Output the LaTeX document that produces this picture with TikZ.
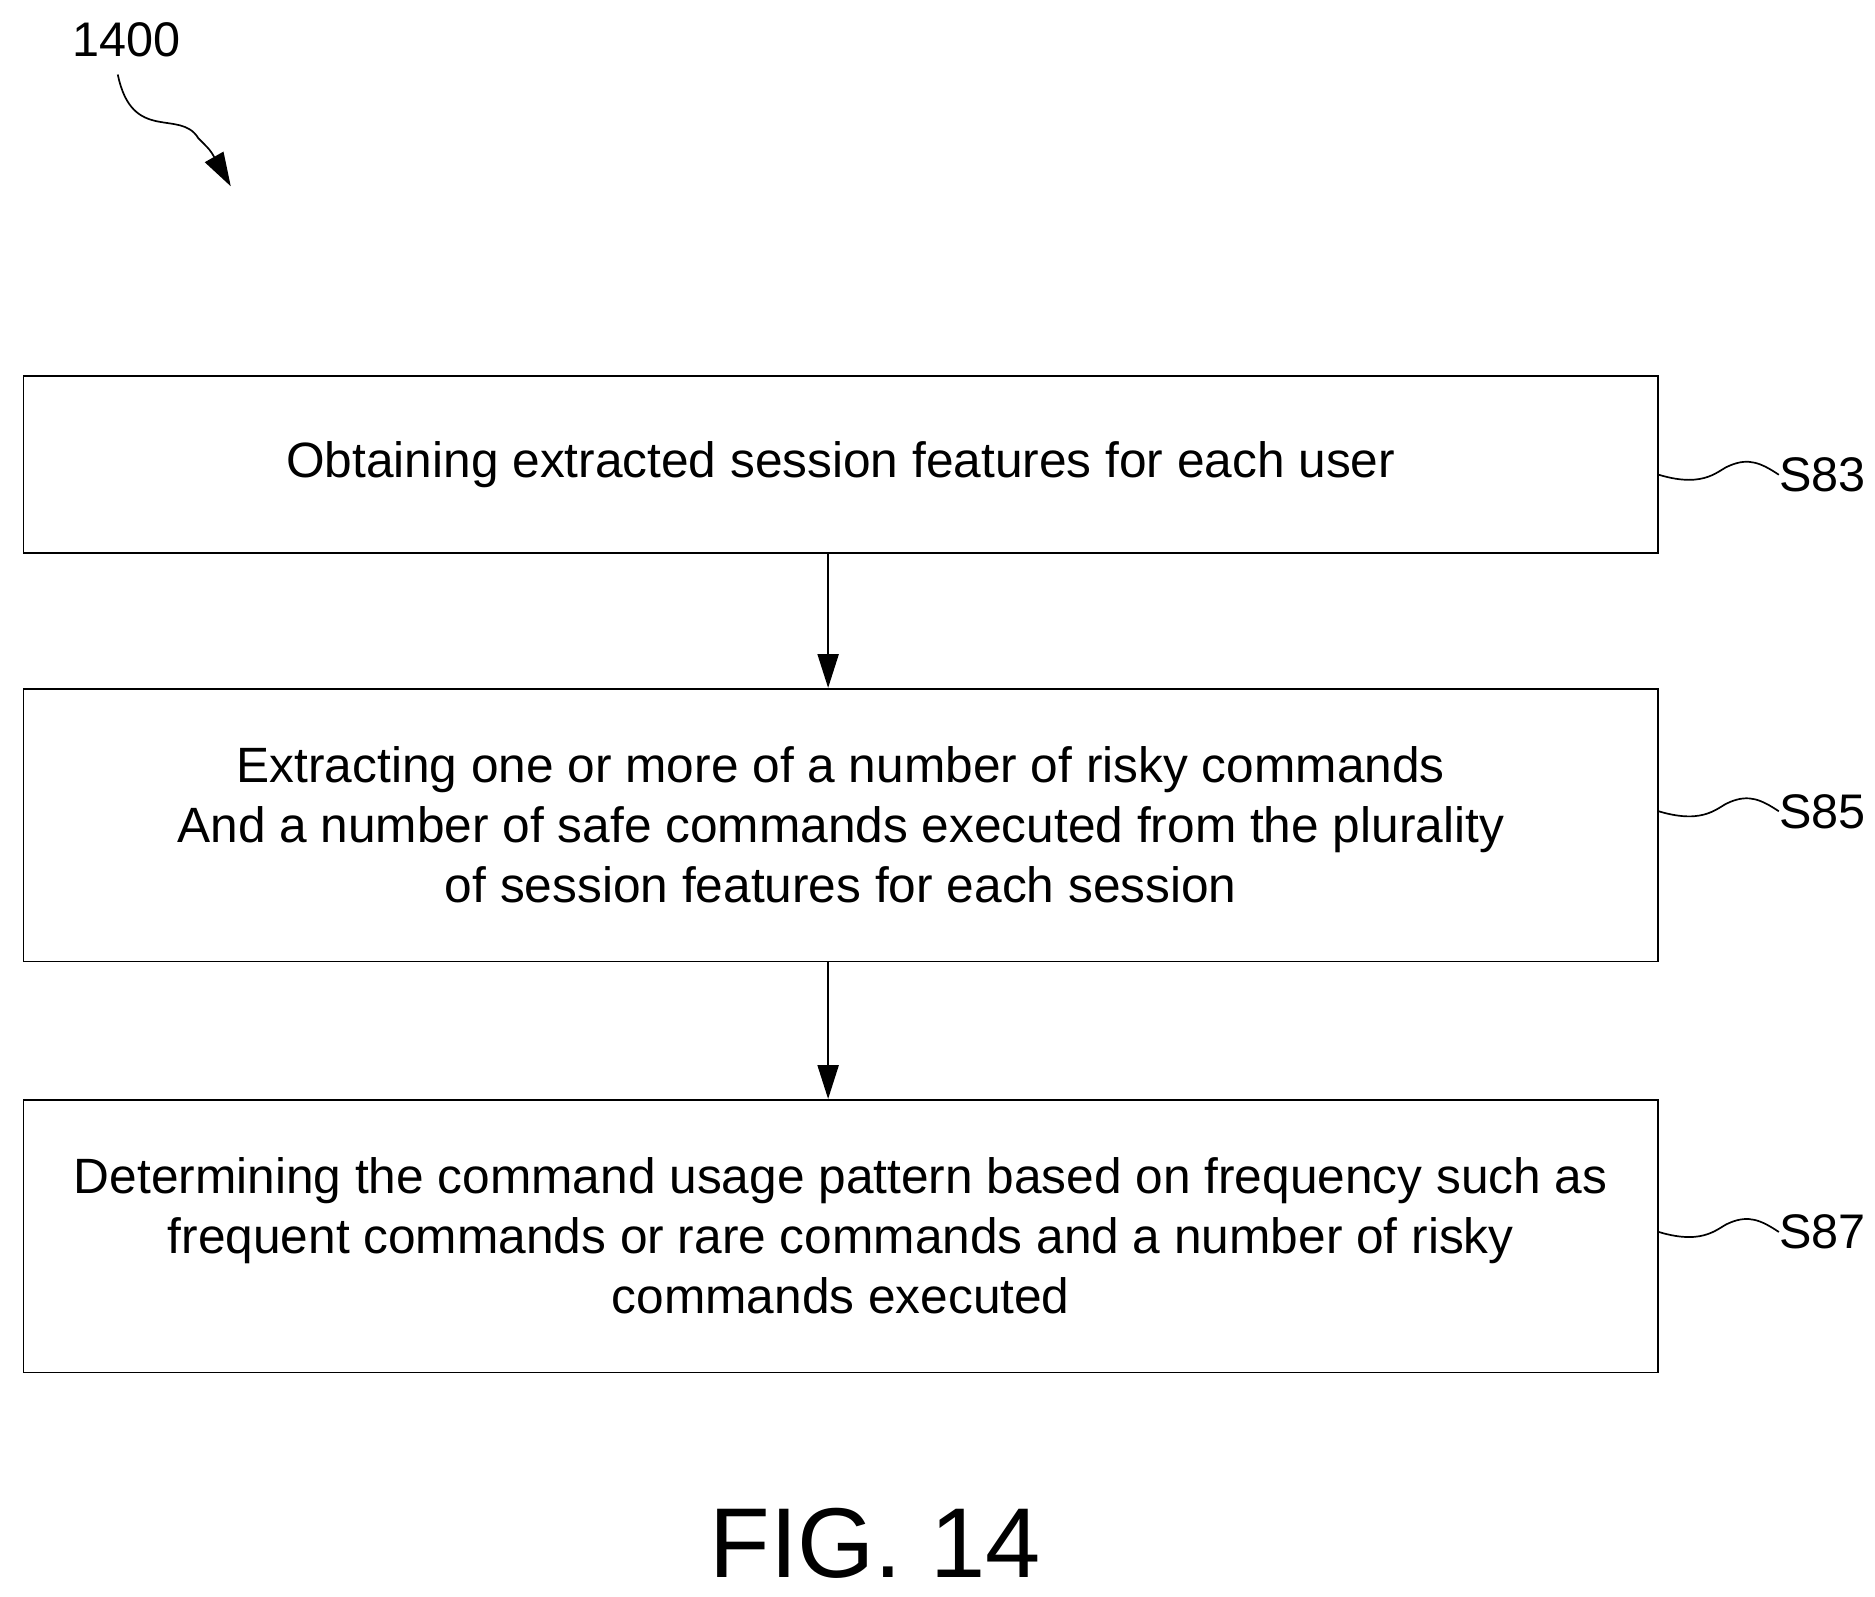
\documentclass[tikz,border=0pt]{standalone}
\usepackage{fontspec}
\setmainfont{Liberation Sans}
\usetikzlibrary{arrows.meta,positioning}
\tikzset{
    stepbox/.style={draw, thick, minimum width=27.2cm, align=center, font=\fontsize{23.5}{28.4}\selectfont},
    steplabel/.style={font=\fontsize{23}{26}\selectfont, anchor=west, inner sep=0pt},
    flow/.style={thick, -{Triangle[length=16pt,width=10pt]}}
}
\begin{document}
\begin{tikzpicture}[x=0.02cm, y=-0.02cm]
    \useasboundingbox (0,0) rectangle (1560,1328);
    \node[font=\fontsize{23}{26}\selectfont] (ref) at (105,33) {1400};
    \coordinate (refend) at (192,155);
    \draw[flow] (98,62) .. controls (110,120) and (150,90) .. (165,115) .. controls (175,125) .. (refend);
    \node[stepbox, minimum height=2.94cm] (s83) at (699.5,386.5) {Obtaining extracted session features for each user};
    \node[stepbox, minimum height=4.54cm] (s85) at (699.5,686.5) {Extracting one or more of a number of risky commands\\And a number of safe commands executed from the plurality\\of session features for each session};
    \node[stepbox, minimum height=4.54cm] (s87) at (699.5,1028.5) {Determining the command usage pattern based on frequency such as\\frequent commands or rare commands and a number of risky\\commands executed};
    \draw[flow] (s83.south -| 689,0) -- (s85.north -| 689,0);
    \draw[flow] (s85.south -| 689,0) -- (s87.north -| 689,0);
    % step labels
    \foreach \n/\yy in {s83/395, s85/675, s87/1025} {
        \node[steplabel] (l\n) at (1480,\yy) {\MakeUppercase{\n}};
        \draw[thick] (\n.east |- 0,\yy) .. controls (1420,\yy+12) and (1430,\yy-5) .. (1440,\yy-8) .. controls (1455,\yy-14) and (1465,\yy-10) .. (l\n.west);
    }
    \node[font=\fontsize{47}{52}\selectfont] (fig) at (728,1284) {FIG. 14};
\end{tikzpicture}
\end{document}
